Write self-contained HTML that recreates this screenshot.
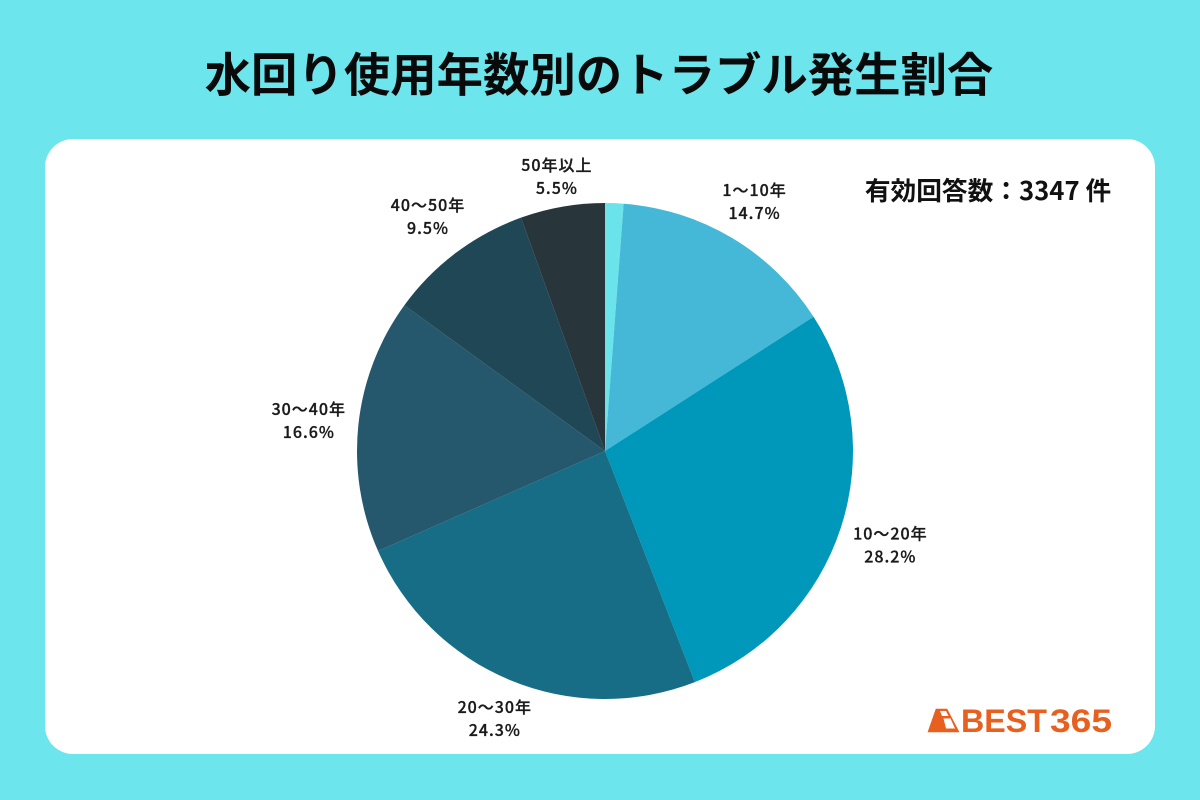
<!DOCTYPE html>
<html lang="ja">
<head>
<meta charset="utf-8">
<title>水回り使用年数別のトラブル発生割合</title>
<style>
html,body{margin:0;padding:0;width:1200px;height:800px;overflow:hidden;background:#6ce5ec}
svg{display:block}
text{font-family:"Noto Sans CJK JP","Liberation Sans",sans-serif}
</style>
</head>
<body>
<svg id="chart" width="1200" height="800" viewBox="0 0 1200 800" xmlns="http://www.w3.org/2000/svg">
  <rect x="0" y="0" width="1200" height="800" fill="#6ce5ec"/>
  <text x="599" y="91.500" text-anchor="middle" font-size="46.4" font-weight="700" fill="#0a0a0a">水回り使用年数別のトラブル発生割合</text>
  <rect x="45" y="139" width="1110" height="615" rx="28" ry="28" fill="#ffffff"/>
  <g id="slices"></g>
  <g id="labels"></g>
  <text x="988" y="200" text-anchor="middle" font-size="25.7" font-weight="700" fill="#111111">有効回答数：3347 件</text>
  <g>
    <path d="M936 709 H947 L959 732 H928 Z" fill="#e8601f" stroke="#e8601f" stroke-width="0.6"/>
    <path d="M940 711 H946 L948.500 716 H942 Z M943.500 718.500 H950.500 L955 728.500 H946 Z" fill="#ffffff"/>
    <text x="961" y="732" font-size="32" font-weight="700" fill="#e8601f" textLength="86" lengthAdjust="spacingAndGlyphs" style="font-family:'Liberation Sans',sans-serif">BEST</text>
    <text x="1050" y="732" font-size="32" font-weight="700" fill="#e8601f" textLength="62" lengthAdjust="spacingAndGlyphs" style="font-family:'Liberation Sans',sans-serif">365</text>
  </g>
</svg>
<script>
const categories = ["その他", "1〜10年", "10〜20年", "20〜30年", "30〜40年", "40〜50年", "50年以上"];
const values = [1.2, 14.7, 28.2, 24.3, 16.6, 9.5, 5.5];
const valueLabels = ["", "14.7%", "28.2%", "24.3%", "16.6%", "9.5%", "5.5%"];
const sliceColors = ["#6be3ea", "#44b8d6", "#0098ba", "#166d85", "#25586c", "#1f4755", "#28363c"];

const NS = "http://www.w3.org/2000/svg";
const cx = 605, cy = 451, radius = 248;
const labelHalfWidth = 43, labelHalfHeight = 20, labelGap = 5;
const total = values.reduce(function (a, b) { return a + b; }, 0);

function angleScale(v) { return (v / total) * Math.PI * 2; }
function polarX(a, r) { return cx + r * Math.sin(a); }
function polarY(a, r) { return cy - r * Math.cos(a); }

function addLabel(x, y, str, name) {
  const t = document.createElementNS(NS, "text");
  t.setAttribute("x", x);
  t.setAttribute("y", y);
  t.setAttribute("text-anchor", "middle");
  t.setAttribute("font-size", "16");
  t.setAttribute("font-weight", "500");
  t.setAttribute("letter-spacing", "1");
  t.setAttribute("fill", "#1a1a1a");
  t.setAttribute("stroke", "#1a1a1a");
  t.setAttribute("stroke-width", "0.3");
  
  
  t.textContent = str;
  labelGroup.appendChild(t);
}

const sliceGroup = document.getElementById("slices");
const labelGroup = document.getElementById("labels");
let cumulative = 0;

values.forEach(function (v, i) {
  const a0 = angleScale(cumulative);
  const a1 = angleScale(cumulative + v);
  const mid = (a0 + a1) / 2;
  cumulative += v;

  const large = a1 - a0 > Math.PI ? 1 : 0;
  const path = document.createElementNS(NS, "path");
  path.setAttribute("d",
    "M" + cx + " " + cy +
    " L" + polarX(a0, radius) + " " + polarY(a0, radius) +
    " A" + radius + " " + radius + " 0 " + large + " 1 " + polarX(a1, radius) + " " + polarY(a1, radius) + " Z");
  path.setAttribute("fill", sliceColors[i]);
  
  
  sliceGroup.appendChild(path);

  if (!valueLabels[i]) return;
  const r = radius + labelGap + labelHalfWidth * Math.abs(Math.sin(mid)) + labelHalfHeight * Math.abs(Math.cos(mid));
  const lx = polarX(mid, r);
  const ly = polarY(mid, r);
  addLabel(lx, ly - 4, categories[i], "category-label-" + i);
  addLabel(lx, ly + 19, valueLabels[i], "value-label-" + i);
});
</script>
</body>
</html>
